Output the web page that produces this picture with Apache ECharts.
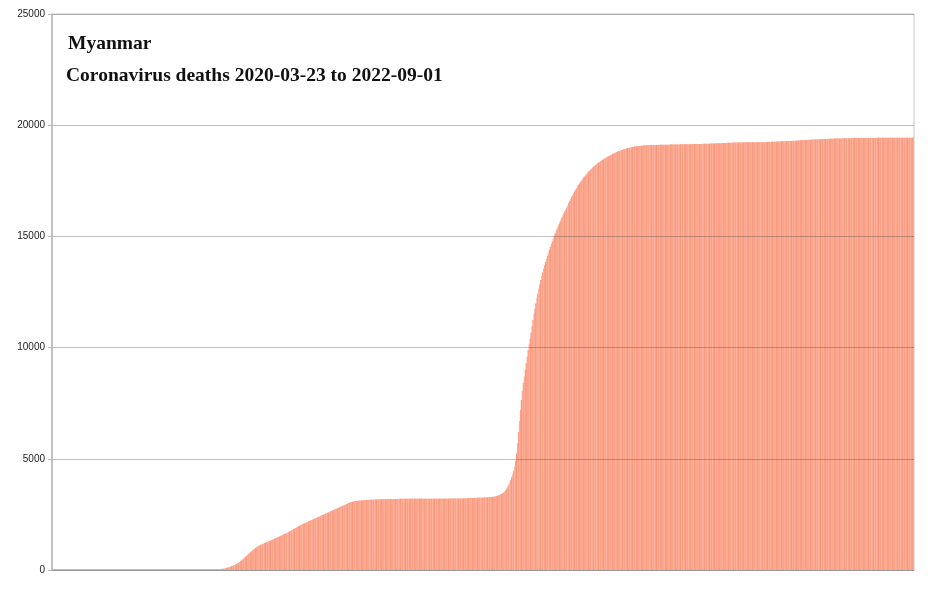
<!DOCTYPE html>
<html>
<head>
<meta charset="utf-8">
<script src="https://cdn.jsdelivr.net/npm/echarts@6/dist/echarts.min.js"></script>
<style>
html,body{margin:0;padding:0;background:#fff;}
#chart{width:936px;height:597px;}
</style>
</head>
<body>
<div id="chart"></div>
<script>
// Cumulative coronavirus deaths, Myanmar, one value per day starting 2020-03-23
const startDate = '2020-03-23';
const chartTitle = 'Myanmar';
const chartSubtitle = 'Coronavirus deaths 2020-03-23 to 2022-09-01';
const yTicks = [0, 5000, 10000, 15000, 20000, 25000];

const deaths2020 = [
  // Mar 23-31
  0,0,0,0,0,0,0,0,1,
  // Apr
  1,1,1,1,1,1,1,1,3,3,4,4,4,4,5,5,5,5,5,5,5,5,5,5,5,5,5,5,5,5,
  // May
  6,6,6,6,6,6,6,6,6,6,6,6,6,6,6,6,6,6,6,6,6,6,6,6,6,6,6,6,6,6,6,
  // Jun
  6,6,6,6,6,6,6,6,6,6,6,6,6,6,6,6,6,6,6,6,6,6,6,6,6,6,6,6,6,6,
  // Jul
  6,6,6,6,6,6,6,6,6,6,6,6,6,6,6,6,6,6,6,6,6,6,6,6,6,6,6,6,6,6,6,
  // Aug
  6,6,6,6,6,6,6,6,6,6,6,6,6,6,6,6,6,6,6,6,6,6,6,6,7,7,7,8,8,8,8,
  // Sep
  8,8,8,8,10,12,14,17,20,25,30,35,40,45,50,57,65,75,86,97,110,125,140,155,170,190,210,230,250,270,
  // Oct
  295,325,360,395,430,470,510,550,590,630,670,710,750,790,830,870,910,945,980,1010,1040,1065,1090,1110,1130,1150,1170,1190,1210,1230,1250,
  // Nov
  1265,1285,1305,1325,1345,1365,1385,1405,1425,1445,1465,1485,1505,1525,1545,1565,1585,1605,1625,1645,1665,1690,1715,1740,1765,1790,1815,1840,1865,1890,
  // Dec
  1915,1940,1965,1990,2015,2035,2055,2075,2095,2115,2135,2155,2175,2195,2215,2235,2255,2275,2295,2315,2335,2355,2375,2395,2415,2435,2455,2475,2495,2515,2535
];

const deaths2021 = [
  // Jan
  2550,2570,2590,2610,2630,2650,2670,2690,2710,2730,2750,2770,2790,2810,2830,2850,2870,2890,2910,2930,2950,2970,2990,3010,3030,3045,3060,3070,3080,3090,3100,
  // Feb
  3105,3110,3115,3120,3125,3130,3135,3138,3141,3144,3147,3150,3152,3154,3156,3158,3160,3162,3164,3166,3168,3170,3172,3174,3176,3178,3180,3182,
  // Mar
  3183,3184,3185,3186,3187,3188,3189,3190,3191,3192,3193,3194,3195,3196,3197,3198,3199,3200,3201,3202,3203,3204,3205,3206,3206,3206,3206,3206,3206,3206,3206,
  // Apr
  3206,3206,3206,3206,3206,3206,3206,3206,3206,3206,3206,3206,3206,3206,3206,3206,3206,3206,3206,3206,3206,3206,3206,3206,3206,3206,3206,3206,3206,3206,
  // May
  3207,3207,3208,3208,3209,3209,3210,3210,3211,3211,3212,3212,3213,3213,3214,3214,3215,3215,3216,3216,3217,3218,3219,3220,3222,3224,3226,3228,3230,3232,3234,
  // Jun
  3236,3238,3240,3242,3244,3246,3248,3250,3252,3254,3256,3258,3260,3262,3265,3268,3271,3274,3277,3280,3284,3288,3293,3300,3310,3322,3336,3352,3370,3390,
  // Jul
  3410,3435,3465,3500,3550,3610,3680,3760,3850,3950,4060,4180,4310,4460,4650,4900,5250,5700,6200,6700,7200,7650,8050,8400,8700,9000,9300,9600,9900,10150,10400,
  // Aug
  10680,10960,11240,11500,11750,11990,12220,12440,12650,12850,13040,13220,13390,13550,13700,13850,13990,14130,14270,14400,14530,14660,14780,14900,15020,15140,15250,15360,15460,15560,15660,
  // Sep
  15760,15860,15950,16040,16130,16220,16310,16400,16500,16600,16690,16780,16860,16940,17020,17100,17170,17240,17310,17380,17440,17500,17560,17620,17680,17730,17780,17830,17880,17930,
  // Oct
  17980,18020,18060,18100,18140,18180,18215,18250,18285,18320,18350,18380,18410,18440,18470,18500,18525,18550,18575,18600,18625,18650,18675,18700,18720,18740,18760,18780,18800,18820,18840,
  // Nov
  18855,18870,18885,18900,18915,18930,18945,18960,18970,18980,18990,19000,19010,19020,19030,19040,19045,19050,19055,19060,19065,19070,19075,19080,19085,19090,19093,19096,19099,19102,
  // Dec
  19105,19106,19107,19108,19109,19110,19111,19112,19113,19114,19115,19116,19117,19118,19119,19120,19121,19122,19123,19124,19125,19126,19127,19128,19129,19130,19131,19132,19133,19134,19135
];

const deaths2022 = [
  // Jan
  19136,19137,19138,19139,19140,19141,19142,19143,19144,19145,19146,19147,19148,19149,19150,19151,19152,19153,19154,19155,19156,19157,19158,19159,19160,19161,19162,19163,19164,19165,19166,
  // Feb
  19168,19170,19172,19174,19176,19178,19180,19182,19184,19186,19188,19190,19192,19194,19196,19198,19200,19202,19204,19206,19208,19210,19212,19214,19216,19218,19220,19222,
  // Mar
  19223,19224,19224,19225,19225,19226,19226,19227,19227,19228,19228,19229,19229,19230,19230,19231,19231,19232,19232,19233,19233,19234,19234,19235,19235,19236,19236,19237,19237,19238,19238,
  // Apr
  19240,19242,19244,19246,19248,19250,19252,19254,19256,19258,19260,19262,19264,19266,19268,19270,19272,19274,19276,19278,19280,19282,19284,19286,19288,19290,19292,19294,19296,19298,
  // May
  19300,19303,19306,19309,19312,19315,19318,19321,19324,19327,19330,19333,19336,19339,19342,19345,19348,19350,19352,19354,19356,19358,19360,19362,19364,19366,19368,19370,19372,19374,19376,
  // Jun
  19378,19380,19382,19384,19386,19388,19390,19392,19394,19396,19398,19400,19401,19402,19403,19404,19405,19406,19407,19408,19409,19410,19411,19412,19413,19414,19415,19416,19417,19418,
  // Jul
  19419,19419,19420,19420,19421,19421,19422,19422,19423,19423,19424,19424,19425,19425,19426,19426,19427,19427,19428,19428,19429,19429,19430,19430,19431,19431,19432,19432,19432,19433,19433,
  // Aug
  19433,19433,19433,19433,19433,19433,19433,19433,19433,19433,19433,19433,19433,19433,19433,19433,19433,19433,19433,19433,19434,19434,19434,19434,19434,19434,19434,19434,19434,19434,19434,
  // Sep 1
  19434
];

const deaths = deaths2020.concat(deaths2021, deaths2022);

// date category for each daily value
const dates = [];
(function(){
  const d0 = new Date(startDate + 'T00:00:00Z');
  for (let i = 0; i < deaths.length; i++) {
    const d = new Date(d0.getTime() + i * 86400000);
    dates.push(d.toISOString().slice(0, 10));
  }
})();

// fine vertical striping of the daily bars (style only)
const stripeColors = ['#fba48b', '#f7967b', '#fcae97', '#f99e84', '#fdb39e'];

const chart = echarts.init(document.getElementById('chart'), null, {renderer: 'canvas'});
chart.setOption({
  animation: false,
  backgroundColor: '#ffffff',
  title: [
    {
      text: chartTitle, left: 63, top: 29,
      textStyle: {fontFamily: 'Liberation Serif', fontWeight: 'bold', fontSize: 19.5, color: '#111'}
    },
    {
      text: chartSubtitle, left: 61, top: 61,
      textStyle: {fontFamily: 'Liberation Serif', fontWeight: 'bold', fontSize: 19.5, color: '#111'}
    }
  ],
  grid: {
    left: 52, right: 22, top: 14, bottom: 27,
    show: true, borderColor: '#c6c6c6', borderWidth: 1, backgroundColor: 'transparent'
  },
  xAxis: {
    type: 'category',
    data: dates,
    boundaryGap: true,
    axisLine: {show: true, lineStyle: {color: '#b8b8b8', width: 1.5}},
    axisTick: {show: false},
    axisLabel: {show: false},
    splitLine: {show: false}
  },
  yAxis: {
    type: 'value',
    min: yTicks[0],
    max: yTicks[yTicks.length - 1],
    interval: 5000,
    z: 5,
    axisLine: {show: true, lineStyle: {color: '#b8b8b8', width: 1.5}},
    axisTick: {show: true, length: 4, lineStyle: {color: '#b8b8b8'}},
    axisLabel: {
      fontFamily: 'Liberation Sans', fontSize: 10, color: '#222', margin: 7,
      formatter: function (v) { return String(v); }
    },
    splitLine: {show: true, lineStyle: {color: 'rgba(60,60,60,0.32)', width: 1}}
  },
  series: [{
    type: 'bar',
    data: deaths,
    barWidth: 1.6,
    itemStyle: {
      color: function (p) { return stripeColors[p.dataIndex % stripeColors.length]; }
    },
    large: false
  }]
});
</script>
</body>
</html>
